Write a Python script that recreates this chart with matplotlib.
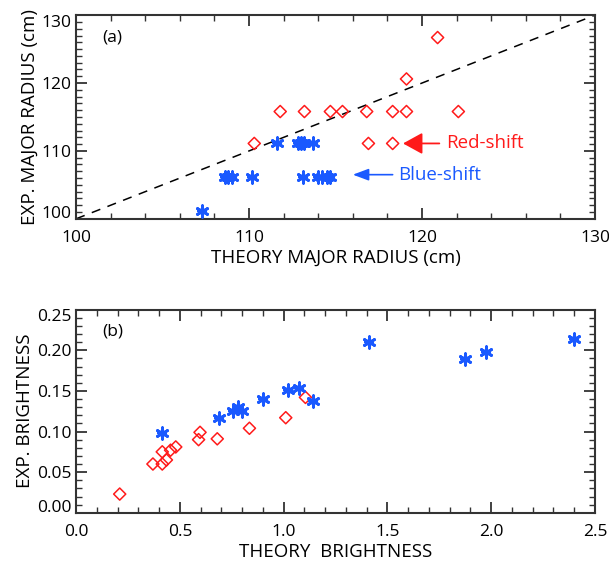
import matplotlib
matplotlib.use('Agg')
import matplotlib.pyplot as plt
from matplotlib.ticker import MultipleLocator
from matplotlib.transforms import ScaledTranslation

RED = (1.0, 0.1, 0.1)
BLUE = (0.1, 0.35, 1.0)

# panel (a): major radius, theory vs experiment
red_theory_r = [120.9, 119.1, 111.8, 113.2, 114.7, 115.4, 116.8, 118.3, 119.1, 122.1,
                110.3, 116.9, 118.3]
red_exp_r = [126.7, 120.6, 115.8, 115.8, 115.8, 115.8, 115.8, 115.8, 115.8, 115.8,
             111.1, 111.1, 111.1]
blue_theory_r = [111.6, 112.8, 113.0, 113.2, 113.7,
                 108.6, 108.8, 109.0, 110.15, 113.1, 114.0, 114.2, 114.5, 114.7,
                 107.3]
blue_exp_r = [111.1, 111.1, 111.1, 111.1, 111.1,
              106.2, 106.2, 106.2, 106.2, 106.2, 106.2, 106.2, 106.2, 106.2,
              101.1]

# panel (b): brightness, theory vs experiment
red_theory_b = [0.21, 0.37, 0.415, 0.415, 0.435, 0.455, 0.48, 0.59, 0.597, 0.68,
                0.835, 1.01, 1.105]
red_exp_b = [0.023, 0.060, 0.060, 0.075, 0.065, 0.077, 0.081, 0.090, 0.099, 0.091,
             0.104, 0.117, 0.142]
blue_theory_b = [0.415, 0.69, 0.756, 0.778, 0.80, 0.898, 1.022, 1.072, 1.142,
                 1.411, 1.875, 1.976, 2.40]
blue_exp_b = [0.098, 0.117, 0.125, 0.130, 0.125, 0.140, 0.151, 0.154, 0.137,
              0.210, 0.189, 0.198, 0.214]

plt.rcParams['font.family'] = ['Open Sans', 'DejaVu Sans']
plt.rcParams['font.size'] = 12


def style_axes(ax):
    for s in ax.spines.values():
        s.set_linewidth(1.5)
        s.set_color('#333333')
    ax.tick_params(which='both', direction='in', top=True, right=True,
                   color='#333333', labelsize=12.5)
    ax.tick_params(which='major', length=8, width=1.3)
    ax.tick_params(which='minor', length=4, width=1.0)
    ax.tick_params(axis='x', which='major', pad=8)


def nudge_end_labels(ax, lo, hi):
    # y tick labels at the ends sit slightly inside the axis range
    for tick in ax.yaxis.get_major_ticks():
        pos = tick.get_loc()
        if abs(pos - lo) < 1e-9:
            off = ScaledTranslation(0, 5 / 72, ax.figure.dpi_scale_trans)
        elif abs(pos - hi) < 1e-9:
            off = ScaledTranslation(0, -4 / 72, ax.figure.dpi_scale_trans)
        else:
            continue
        tick.label1.set_transform(tick.label1.get_transform() + off)


def draw_points(ax, rx, ry, bx, by):
    ax.scatter(rx, ry, marker='D', s=38, facecolors='none', edgecolors=RED,
               linewidths=1.1, zorder=3)
    ax.scatter(bx, by, marker=(6, 2, 0), s=70, color=BLUE, linewidths=2.0, zorder=3)
    ax.scatter(bx, by, marker='_', s=55, color=BLUE, linewidths=1.6, zorder=3)


fig = plt.figure(figsize=(6.09, 5.61), dpi=100)
ax1 = fig.add_axes([0.125, 0.610, 0.852, 0.363])
ax2 = fig.add_axes([0.125, 0.086, 0.852, 0.362])

# (a)
ax1.plot([100, 130], [100, 130], color='black', linestyle=(0, (6, 5)), linewidth=1.1)
draw_points(ax1, red_theory_r, red_exp_r, blue_theory_r, blue_exp_r)
ax1.set_xlim(100, 130)
ax1.set_ylim(100, 130)
ax1.xaxis.set_major_locator(MultipleLocator(10))
ax1.xaxis.set_minor_locator(MultipleLocator(2))
ax1.yaxis.set_major_locator(MultipleLocator(10))
ax1.yaxis.set_minor_locator(MultipleLocator(1))
ax1.set_xlabel('THEORY MAJOR RADIUS (cm)', fontsize=13.5, labelpad=2)
ax1.set_ylabel('EXP. MAJOR RADIUS (cm)', fontsize=13.5, labelpad=2)
ax1.text(0.05, 0.93, '(a)', transform=ax1.transAxes, fontsize=12.5, va='top')
ax1.annotate('', xy=(118.9, 111.1), xytext=(121.0, 111.1),
             arrowprops=dict(arrowstyle='-|>,head_length=1.0,head_width=0.55',
                             color=RED, lw=1.3, shrinkA=0, shrinkB=0))
ax1.text(121.4, 111.1, 'Red-shift', color=RED, fontsize=13.5, va='center')
ax1.annotate('', xy=(116.0, 106.5), xytext=(118.3, 106.5),
             arrowprops=dict(arrowstyle='-|>,head_length=0.8,head_width=0.3',
                             color=BLUE, lw=1.2, shrinkA=0, shrinkB=0))
ax1.text(118.6, 106.5, 'Blue-shift', color=BLUE, fontsize=13.5, va='center')
style_axes(ax1)

# (b)
draw_points(ax2, red_theory_b, red_exp_b, blue_theory_b, blue_exp_b)
ax2.set_xlim(0, 2.5)
ax2.set_ylim(0, 0.25)
ax2.xaxis.set_major_locator(MultipleLocator(0.5))
ax2.xaxis.set_minor_locator(MultipleLocator(0.1))
ax2.yaxis.set_major_locator(MultipleLocator(0.05))
ax2.yaxis.set_minor_locator(MultipleLocator(0.01))
ax2.xaxis.set_major_formatter(plt.FormatStrFormatter('%.1f'))
ax2.yaxis.set_major_formatter(plt.FormatStrFormatter('%.2f'))
ax2.set_xlabel('THEORY  BRIGHTNESS', fontsize=13.5, labelpad=2)
ax2.set_ylabel('EXP. BRIGHTNESS', fontsize=13.5, labelpad=2)
ax2.text(0.05, 0.93, '(b)', transform=ax2.transAxes, fontsize=12.5, va='top')
style_axes(ax2)

fig.canvas.draw()
nudge_end_labels(ax1, 100, 130)
nudge_end_labels(ax2, 0.0, 0.25)

fig.savefig('out.png', dpi=100)
